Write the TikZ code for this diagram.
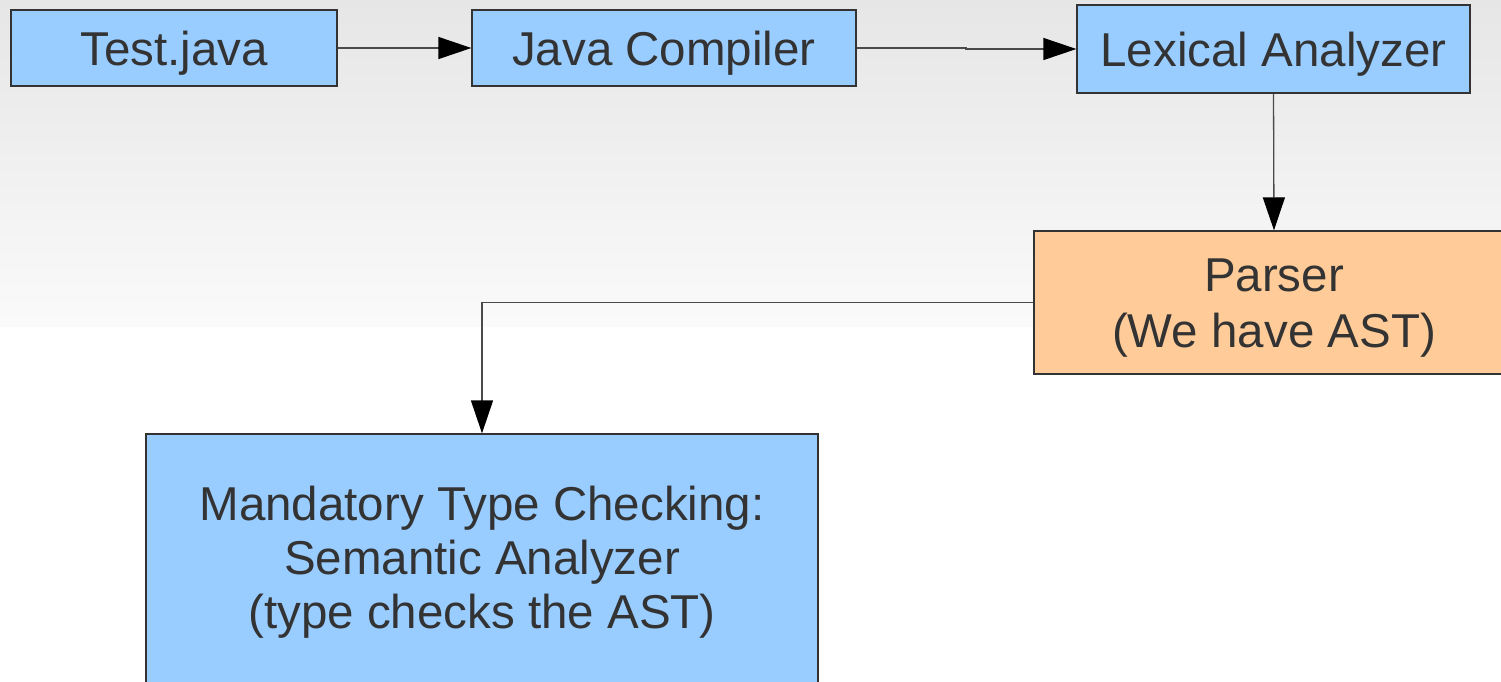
\documentclass[tikz,border=0pt]{standalone}
\usepackage{fontspec}
\setmainfont{Liberation Sans}
\usetikzlibrary{arrows.meta}
\definecolor{boxblue}{HTML}{99CCFF}
\definecolor{boxorange}{HTML}{FFCC99}
\definecolor{inktext}{HTML}{333333}
\definecolor{edge}{HTML}{333333}
\definecolor{wire}{HTML}{4A4A4A}
\definecolor{bgtop}{HTML}{E6E6E6}
\definecolor{bgbottom}{HTML}{FAFAFA}
% a tall invisible strut on the first line, so the caps sit in the middle of the box
\newcommand{\capstrut}[1]{\rule{0pt}{#1}}
\tikzset{
  stage/.style={draw=edge, line width=1.3pt, inner sep=0pt, align=center,
    text=inktext, font=\fontsize{47.5}{54}\selectfont,
    execute at begin node=\capstrut{44pt}},
  multiline/.style={execute at begin node={}},
  bluestage/.style={stage, fill=boxblue},
  orangestage/.style={stage, fill=boxorange,
    font=\fontsize{47.5}{56}\selectfont},
  flow/.style={draw=wire, line width=1.3pt,
    -{Triangle[length=33pt,width=22pt,fill=black,color=black]}},
}
\begin{document}
\begin{tikzpicture}[x=1pt, y=-1pt]
  \useasboundingbox (0,0) rectangle (1501,681);
  \clip (0,0) rectangle (1501,681);
  % backdrop: soft grey fade across the upper band
  \fill[white] (0,0) rectangle (1501,681);
  \shade[top color=bgtop, bottom color=bgbottom] (0,0) rectangle (1501,326);

  % pipeline stages
  \node[bluestage, minimum width=326pt, minimum height=76pt] (src) at (174,48) {Test.java};
  \node[bluestage, minimum width=384pt, minimum height=76pt] (javac) at (664,48) {Java Compiler};
  \node[bluestage, minimum width=393pt, minimum height=88pt] (lex) at (1273.5,49) {Lexical Analyzer};
  \node[orangestage, multiline, minimum width=480pt, minimum height=143pt] (parse) at (1274,302.5)
    {\capstrut{44pt}Parser\\(We have AST)};
  \node[bluestage, multiline, minimum width=672pt, minimum height=252pt] (sem) at (482,560)
    {\capstrut{38pt}Mandatory Type Checking:\\Semantic Analyzer\\(type checks the AST)};

  % connectors
  \coordinate (jog) at (966,48);
  \coordinate (turn) at (482,302.5);
  \draw[flow] (src.east) -- (javac.west);
  \draw[flow] (javac.east) -- (jog) -- ++(0,1) -- (lex.west |- 0,49);
  \draw[flow] (lex.south) -- (parse.north);
  \draw[flow] (parse.west) -- (turn) -- (sem.north);
\end{tikzpicture}
\end{document}
